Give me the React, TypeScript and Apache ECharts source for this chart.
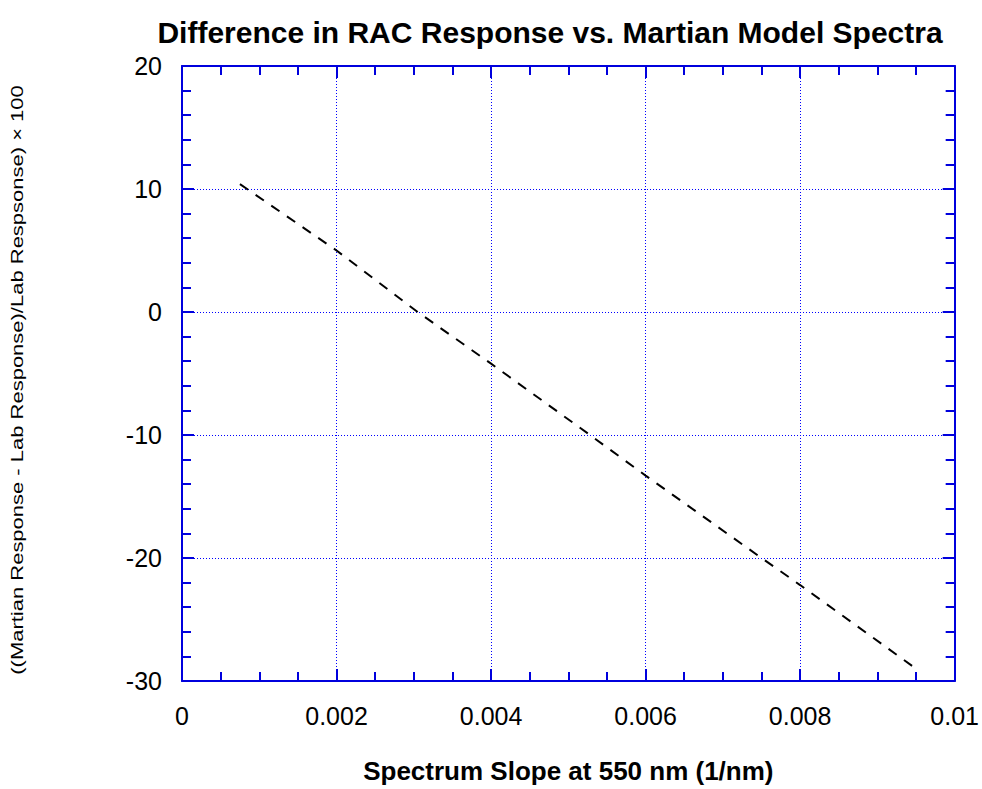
import React, { useEffect, useRef } from "react";
import * as echarts from "echarts";

const slopeX = [0.00075, 0.002, 0.00305, 0.004, 0.00528, 0.006, 0.0075, 0.008, 0.0095];
const diffY = [10.4, 5.0, 0.0, -4.2, -10.0, -13.3, -20.0, -22.2, -29.0];
const titleText = "Difference in RAC Response vs. Martian Model Spectra";
const xTitle = "Spectrum Slope at 550 nm (1/nm)";
const yTitle = "((Martian Response - Lab Response)/Lab Respsonse) \u00d7 100";

const BLUE = "#0000dd";
const GRID_BLUE = "#0000ff";
const FONT = "'Liberation Sans', Arial, sans-serif";

export default function App() {
  const ref = useRef<HTMLDivElement>(null);
  useEffect(() => {
    if (!ref.current) return;
    const chart = echarts.init(ref.current, null, { renderer: "svg" });
    const axisCommon = {
      type: "value" as const,
      axisLine: { show: true, onZero: false, lineStyle: { color: BLUE, width: 2 } },
      axisTick: { show: true, inside: true, length: 12, lineStyle: { color: BLUE, width: 2 } },
      minorTick: { show: true, length: 9, lineStyle: { color: BLUE, width: 2 } },
    };
    chart.setOption({
      animation: false,
      backgroundColor: "#ffffff",
      title: {
        text: titleText,
        left: 545,
        top: 12,
        textAlign: "center",
        textStyle: { fontFamily: FONT, fontSize: 30, fontWeight: "bold", color: "#000" },
      },
      grid: { left: 182, right: 24, top: 66, bottom: 104, containLabel: false },
      xAxis: [
        {
          ...axisCommon,
          position: "bottom",
          min: 0,
          max: 0.01,
          interval: 0.002,
          minorTick: { ...axisCommon.minorTick, splitNumber: 4 },
          axisLabel: {
            show: true,
            margin: 22,
            fontFamily: FONT,
            fontSize: 25,
            color: "#000",
            formatter: (v: number) => (v === 0 ? "0" : String(+v.toFixed(3))),
          },
          splitLine: { show: true, lineStyle: { color: GRID_BLUE, type: [1, 2], width: 1 } },
          name: xTitle,
          nameLocation: "middle",
          nameGap: 77,
          nameTextStyle: { fontFamily: FONT, fontSize: 26, fontWeight: "bold", color: "#000" },
        },
        {
          ...axisCommon,
          position: "top",
          min: 0,
          max: 0.01,
          interval: 0.002,
          minorTick: { ...axisCommon.minorTick, splitNumber: 4 },
          axisLabel: { show: false },
          splitLine: { show: false },
        },
      ],
      yAxis: [
        {
          ...axisCommon,
          position: "left",
          min: -30,
          max: 20,
          interval: 10,
          minorTick: { ...axisCommon.minorTick, splitNumber: 5 },
          axisLabel: { show: true, margin: 20, fontFamily: FONT, fontSize: 25, color: "#000" },
          splitLine: { show: true, lineStyle: { color: GRID_BLUE, type: [1, 2], width: 1 } },
        },
        {
          ...axisCommon,
          position: "right",
          min: -30,
          max: 20,
          interval: 10,
          minorTick: { ...axisCommon.minorTick, splitNumber: 5 },
          axisLabel: { show: false },
          splitLine: { show: false },
        },
      ],
      graphic: [
        {
          type: "text",
          x: 18,
          y: 380,
          rotation: Math.PI / 2,
          scaleX: 1.375,
          scaleY: 1,
          style: {
            text: yTitle,
            fontFamily: FONT,
            fontSize: 16,
            fill: "#000",
            textAlign: "center",
            textVerticalAlign: "middle",
          },
        },
      ],
      series: [
        {
          type: "line",
          xAxisIndex: 0,
          yAxisIndex: 0,
          data: slopeX.map((x, i) => [x, diffY[i]]),
          showSymbol: false,
          symbol: "none",
          lineStyle: { color: "#000", width: 2, type: [10, 9] },
        },
      ],
    });
    return () => chart.dispose();
  }, []);
  return <div ref={ref} style={{ width: 982, height: 789, position: "absolute", left: 0, top: 0 }} />;
}
